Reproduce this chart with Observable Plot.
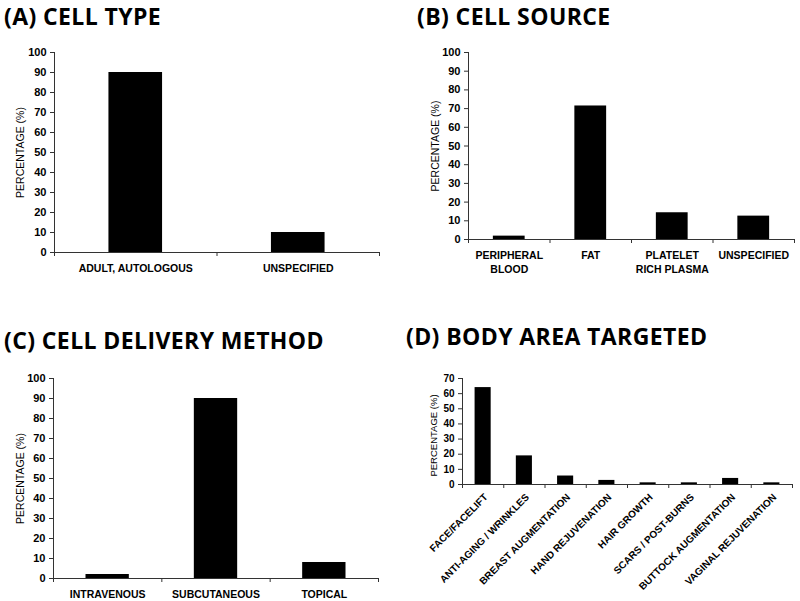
<!DOCTYPE html>
<html>
<head>
<meta charset="utf-8">
<script src="https://cdn.jsdelivr.net/npm/d3@7"></script>
<script src="https://cdn.jsdelivr.net/npm/@observablehq/plot@0.6"></script>
<style>
  html, body { margin: 0; padding: 0; background: #fff; }
  #wrap { position: relative; width: 800px; height: 601px; overflow: hidden; background: #fff; }
  .panel { position: absolute; }
  .panel svg { display: block; background: transparent !important; }
  .title { position: absolute; font-family: "Open Sans", sans-serif; font-weight: 700; font-size: 23px; letter-spacing: 0.4px; line-height: 1.4; color: #000; white-space: nowrap; }
</style>
</head>
<body>
<div id="wrap"></div>
<script>
// ---- data ----
const titleA = "(A) CELL TYPE";
const catsA = ["ADULT, AUTOLOGOUS", "UNSPECIFIED"];
const valsA = [90, 10];

const titleB = "(B) CELL SOURCE";
const catsB = ["PERIPHERAL\nBLOOD", "FAT", "PLATELET\nRICH PLASMA", "UNSPECIFIED"];
const valsB = [1.8, 71.4, 14.3, 12.5];

const titleC = "(C) CELL DELIVERY METHOD";
const catsC = ["INTRAVENOUS", "SUBCUTANEOUS", "TOPICAL"];
const valsC = [2, 90, 8];

const titleD = "(D) BODY AREA TARGETED";
const catsD = ["FACE/FACELIFT", "ANTI-AGING / WRINKLES", "BREAST AUGMENTATION", "HAND REJUVENATION",
               "HAIR GROWTH", "SCARS / POST-BURNS", "BUTTOCK AUGMENTATION", "VAGINAL REJUVENATION"];
const valsD = [64, 18.9, 5.6, 2.7, 1.1, 1.1, 4, 1.1];

const yTicksABC = [0, 10, 20, 30, 40, 50, 60, 70, 80, 90, 100];
const yTicksD = [0, 10, 20, 30, 40, 50, 60, 70];
const yLabel = "PERCENTAGE (%)";

// ---- drawing ----
const wrap = document.getElementById("wrap");

function panel(cfg) {
  const n = cfg.cats.length;
  const data = cfg.cats.map((c, i) => ({c, v: cfg.vals[i], i}));
  const bw = cfg.barFrac;
  const marks = [
    Plot.rectY(data, {x1: d => d.i + 0.5 - bw / 2, x2: d => d.i + 0.5 + bw / 2, y1: 0, y2: "v", fill: "#000"}),
    Plot.axisY({ticks: cfg.yTicks, tickSize: 4, tickPadding: 4, tickFormat: d => String(d), fontWeight: "bold", fontSize: cfg.tickFont, label: null, stroke: "#333"}),
    Plot.axisX({ticks: d3.range(0, n + 1), tickSize: 4, tickFormat: () => "", label: null, stroke: "#333"}),
    Plot.ruleX([0], {stroke: "#333"}),
    Plot.ruleY([0], {stroke: "#333"}),
    Plot.text([yLabel], {frameAnchor: "left", textAnchor: "middle", dx: cfg.labelDx, dy: cfg.labelDy || 0, rotate: -90, fontWeight: "normal", fontSize: cfg.labelFont, fill: "#000"})
  ];
  if (cfg.rotate) {
    marks.push(Plot.text(data, {x: d => d.i + 0.5, y: 0, text: "c", rotate: -45, textAnchor: "end", lineAnchor: "middle", dx: 3, dy: 11, fontWeight: "bold", fontSize: cfg.catFont, fill: "#000"}));
  } else {
    marks.push(Plot.text(data, {x: d => d.i + 0.5, y: 0, text: "c", lineAnchor: "top", dy: 9, lineHeight: 1.35, fontWeight: "bold", fontSize: cfg.catFont, fill: "#000"}));
  }
  const svg = Plot.plot({
    width: cfg.w, height: cfg.h,
    marginLeft: cfg.ml, marginRight: cfg.mr, marginTop: cfg.mt, marginBottom: cfg.mb,
    x: {type: "linear", domain: [0, n], axis: null},
    y: {domain: [0, cfg.yTicks[cfg.yTicks.length - 1]], axis: null},
    style: {fontFamily: "'Liberation Sans', Arial, sans-serif", fontSize: "10.5px", color: "#000", background: "transparent", overflow: "visible"},
    marks
  });
  const div = document.createElement("div");
  div.className = "panel";
  div.style.left = cfg.left + "px";
  div.style.top = cfg.top + "px";
  div.appendChild(svg);
  wrap.appendChild(div);
  const t = document.createElement("div");
  t.className = "title";
  t.textContent = cfg.title;
  t.style.left = cfg.tx + "px";
  t.style.top = cfg.ty + "px";
  wrap.appendChild(t);
}

panel({title: titleA, cats: catsA, vals: valsA, yTicks: yTicksABC, barFrac: 0.33,
  left: 0, top: 0, w: 400, h: 300, ml: 54, mr: 21, mt: 52, mb: 48,
  labelDx: -34, tickFont: 11, labelFont: 10.5, catFont: 10.5, tx: 4, ty: 0});

panel({title: titleB, cats: catsB, vals: valsB, yTicks: yTicksABC, barFrac: 0.39,
  left: 400, top: 0, w: 400, h: 300, ml: 68, mr: 6, mt: 52, mb: 61,
  labelDx: -33, tickFont: 11, labelFont: 10.5, catFont: 10.5, tx: 417, ty: 0});

panel({title: titleC, cats: catsC, vals: valsC, yTicks: yTicksABC, barFrac: 0.4,
  left: 0, top: 300, w: 400, h: 301, ml: 53, mr: 22, mt: 78, mb: 23,
  labelDx: -33, tickFont: 11, labelFont: 10.5, catFont: 10.5, tx: 4, ty: 324});

panel({title: titleD, cats: catsD, vals: valsD, yTicks: yTicksD, barFrac: 0.39, rotate: true,
  left: 400, top: 300, w: 400, h: 301, ml: 62, mr: 8, mt: 78, mb: 117,
  labelDx: -29, labelDy: 4, tickFont: 10, labelFont: 9.5, catFont: 10, tx: 406, ty: 320});
</script>
</body>
</html>
